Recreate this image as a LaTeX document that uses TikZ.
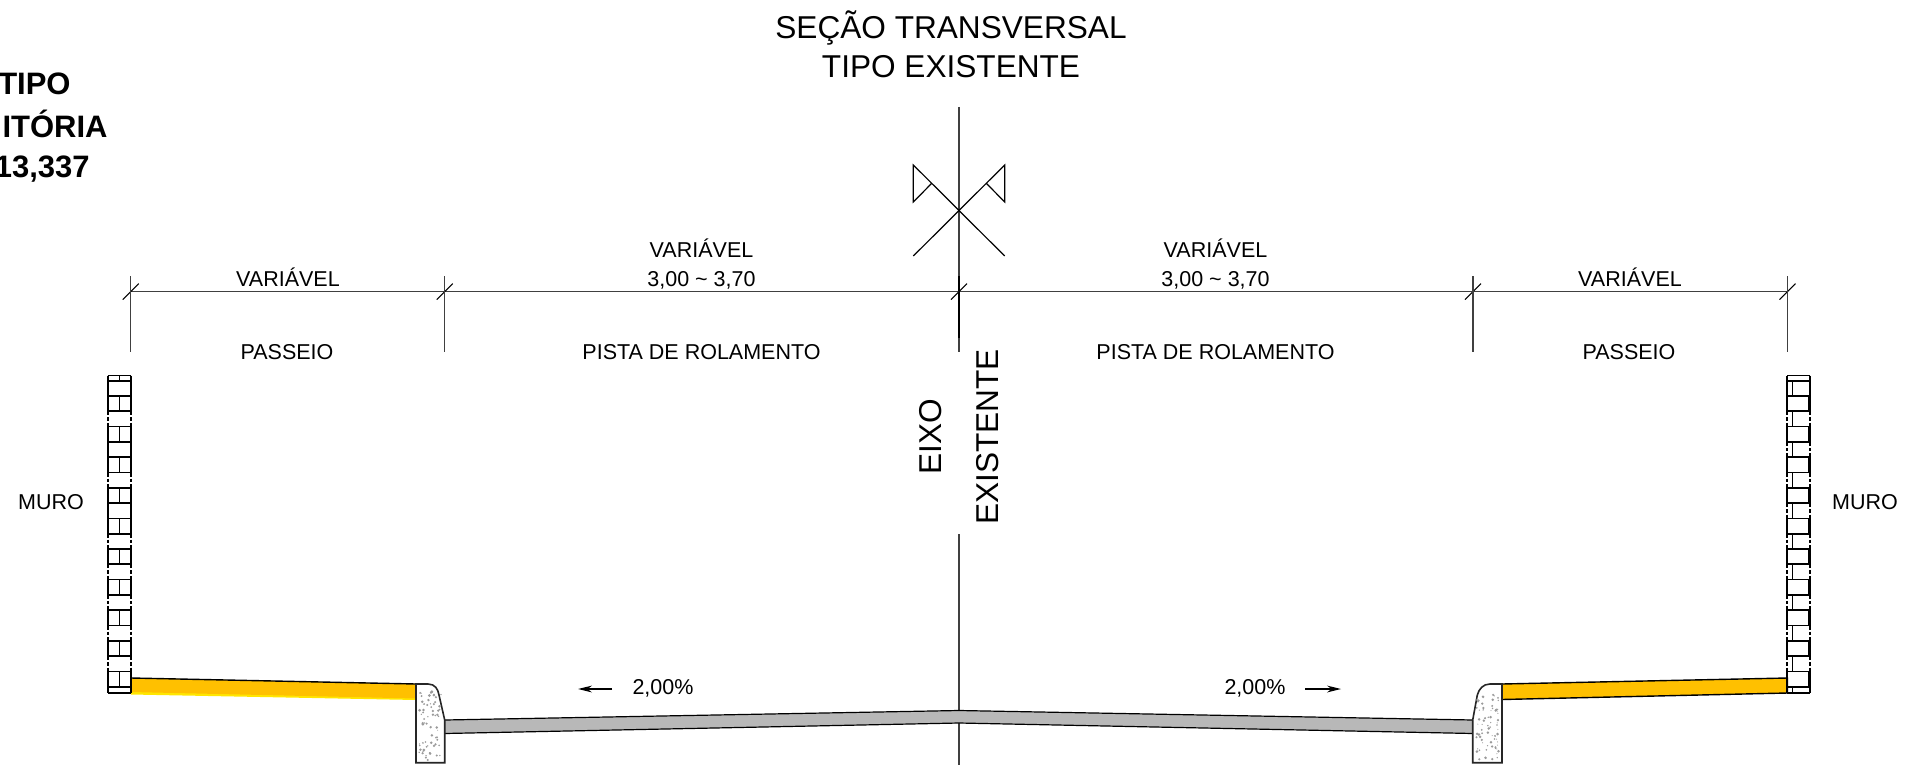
\documentclass[tikz,border=0pt]{standalone}
\usepackage{fontspec}
\setmainfont{Liberation Sans}
\definecolor{dimgray}{HTML}{404040}
\definecolor{pave}{HTML}{FFC000}
\definecolor{paveedge}{HTML}{FFE600}
\definecolor{road}{HTML}{B8B8B8}
\definecolor{grain}{HTML}{9A9A9A}
\usetikzlibrary{arrows.meta}
\tikzset{
  bigtext/.style={inner sep=0pt,font=\fontsize{15.8}{18}\selectfont},
  boldtext/.style={inner sep=0pt,anchor=base east,font=\fontsize{15.5}{18}\selectfont\bfseries},
  smalltext/.style={inner sep=0pt,anchor=base,font=\fontsize{10.75}{12}\selectfont},
  dimline/.style={draw=dimgray,line width=0.5pt},
  extline/.style={draw=dimgray,line width=0.55pt},
  tickline/.style={draw=black,line width=0.5pt},
  axisline/.style={draw=dimgray,line width=1pt},
  flagline/.style={draw=black,line width=0.6pt},
  brick/.style={draw=black,line width=0.85pt},
  brickthin/.style={draw=black,line width=0.55pt},
  brickheavy/.style={draw=black,line width=1.3pt},
  curb/.style={draw=black!85,line width=0.8pt,fill=white},
  slopearrow/.style={draw=black,line width=0.65pt,-{Stealth[length=7pt,width=3.4pt]}},
}
\begin{document}
\begin{tikzpicture}[x=0.5pt,y=-0.5pt]
\useasboundingbox (0,0) rectangle (1909,765);
\clip (0,0) rectangle (1909,765);
% titles
\node[bigtext] (title1) at (951,28) {SEÇÃO TRANSVERSAL};
\node[bigtext] (title2) at (951,67) {TIPO EXISTENTE};
\node[boldtext] (b1) at (71,95) {TIPO};
\node[boldtext] (b2) at (108,137) {ITÓRIA};
\node[boldtext] (b3) at (90,177) {13,337};
% axis
\coordinate (axT) at (959,107);
\coordinate (axM) at (959,352);
\coordinate (axL) at (959,534);
\coordinate (axB) at (959,765);
\draw[axisline] (axT) -- (axM);
\draw[axisline] (axL) -- (axB);
\coordinate (axD1) at (959,276);
\coordinate (axD2) at (959,338);
\draw[draw=black,line width=1pt] (axD1) -- (axD2);
% flag symbol
\coordinate (fc) at (959,210);
\coordinate (fa) at (913.3,256);
\coordinate (fb) at (1004.7,256);
\coordinate (fd) at (913.3,165);
\coordinate (fe) at (1004.7,165);
\draw[flagline] (fa) -- (fe) -- (1004.7,202) -- (986,183);
\draw[flagline] (fb) -- (fd) -- (913.3,202) -- (932,183);
% dimension line
\coordinate (d1) at (130.7,291.6);
\coordinate (d2) at (444.7,291.6);
\coordinate (d3) at (959,291.6);
\coordinate (d4) at (1473,291.6);
\coordinate (d5) at (1787.5,291.6);
\draw[dimline] (d1) -- (d5);
\foreach \p in {d1,d2,d3,d4,d5}{
  \draw[tickline] ([shift={(-8,8)}]\p) -- ([shift={(8,-8)}]\p);
}
\foreach \xx in {130.7,444.7,1473,1787.5}{
  \draw[extline] (\xx,276) -- (\xx,352);
}
% labels
\node[smalltext] (v1) at (288,286.5) {VARIÁVEL};
\node[smalltext] (v2) at (701.5,257.5) {VARIÁVEL};
\node[smalltext] (n2) at (701.5,286.5) {3,00 \textasciitilde{} 3,70};
\node[smalltext] (v3) at (1215.5,257.5) {VARIÁVEL};
\node[smalltext] (n3) at (1215.5,286.5) {3,00 \textasciitilde{} 3,70};
\node[smalltext] (v4) at (1630,286.5) {VARIÁVEL};
\node[smalltext] (p1) at (287,359) {PASSEIO};
\node[smalltext] (r1) at (701.5,359) {PISTA DE ROLAMENTO};
\node[smalltext] (r2) at (1215.5,359) {PISTA DE ROLAMENTO};
\node[smalltext] (p2) at (1629,359) {PASSEIO};
\node[smalltext] (m1) at (51,509) {MURO};
\node[smalltext] (m2) at (1865,509) {MURO};
\node[bigtext,rotate=90] (e1) at (931,437) {EIXO};
\node[bigtext,rotate=90] (e2) at (988,437) {EXISTENTE};
\node[smalltext] (s1) at (663,694.5) {2,00\%};
\node[smalltext] (s2) at (1255,694.5) {2,00\%};
\coordinate (a1s) at (612,689);
\coordinate (a1e) at (578,689);
\coordinate (a2s) at (1305,689);
\coordinate (a2e) at (1341,689);
\draw[slopearrow] (a1s) -- (a1e);
\draw[slopearrow] (a2s) -- (a2e);
% road
\fill[road] (444.7,720) -- (959,710.5) -- (1473,720) -- (1473,733.5) -- (959,723) -- (444.7,733.5) -- cycle;
\draw[draw=black,line width=0.6pt] (444.7,720) -- (959,710.5) -- (1473,720);
\draw[draw=black,line width=0.6pt] (444.7,733.5) -- (959,723) -- (1473,733.5);
% left sidewalk
\fill[paveedge] (131,678) -- (416,684) -- (416,700) -- (131,694.5) -- cycle;
\fill[pave] (131,678) -- (416,684) -- (416,698.5) -- (131,692) -- cycle;
\draw[draw=black,line width=0.7pt] (131,678) -- (416,684);
% right sidewalk
\fill[pave] (1502,684) -- (1787.5,678) -- (1787.5,693) -- (1502,699.5) -- cycle;
\draw[draw=black,line width=0.7pt] (1502,684) -- (1787.5,678) -- (1787.5,693) -- (1502,699.5) -- cycle;
% curbs
\draw[curb] (416,684) -- (428,684) .. controls (435,684) and (438,689) .. (439,695) -- (444.7,720) -- (444.7,762.7) -- (416,762.7) -- cycle;
\draw[curb] (1502,684) -- (1490,684) .. controls (1483,684) and (1479,689) .. (1477.3,695) -- (1472.7,720) -- (1472.7,762.7) -- (1502,762.7) -- cycle;
\pgfmathsetseed{17}
\foreach \i in {1,...,70}{
  \pgfmathsetmacro{\dx}{419+rnd*22}
  \pgfmathsetmacro{\dy}{690+rnd*70}
  \pgfmathsetmacro{\dr}{0.5+rnd*1.0}
  \fill[grain] (\dx,\dy) circle[radius=\dr];
  \pgfmathsetmacro{\ex}{1476+rnd*23}
  \pgfmathsetmacro{\ey}{692+rnd*68}
  \pgfmathsetmacro{\er}{0.5+rnd*1.0}
  \fill[grain] (\ex,\ey) circle[radius=\er];
}
% left wall
\draw[brickthin] (107.7,375.7) -- (131.3,375.7);
\draw[brickthin] (107.7,693) -- (131.3,693);
\draw[brick] (119.5,375.7) -- (119.5,380.7);
\foreach \k in {0,...,20}{
  \pgfmathsetmacro{\yy}{380.7+15.3*\k}
  \draw[brick] (107.7,\yy) -- (131.3,\yy);
}
\foreach \k in {1,3,...,19}{
  \pgfmathsetmacro{\ya}{380.7+15.3*\k}
  \pgfmathsetmacro{\yb}{\ya+15.3}
  \draw[brick] (119.5,\ya) -- (119.5,\yb);
  \draw[brick] (107.7,\ya) -- (107.7,\yb);
  \draw[brick] (131.3,\ya) -- (131.3,\yb);
}
\foreach \k in {0,4,8,20}{
  \pgfmathsetmacro{\ya}{380.7+15.3*\k}
  \pgfmathsetmacro{\yb}{\ya+(\k==20 ? 6.3 : 15.3)}
  \draw[brick] (107.7,\ya) -- (107.7,\yb);
  \draw[brick] (131.3,\ya) -- (131.3,\yb);
}
\draw[brick] (107.7,375.7) -- (107.7,380.7);
\draw[brick] (131.3,375.7) -- (131.3,380.7);
\foreach \k in {2,6,10,12,14,16,18}{
  \pgfmathsetmacro{\ya}{380.7+15.3*\k}
  \pgfmathsetmacro{\yb}{\ya+4}
  \pgfmathsetmacro{\yc}{\ya+6}
  \pgfmathsetmacro{\yd}{\ya+9.5}
  \pgfmathsetmacro{\ye}{\ya+11.5}
  \pgfmathsetmacro{\yf}{\ya+15.3}
  \foreach \xx in {107.7,131.3}{
    \draw[brick] (\xx,\ya) -- (\xx,\yb);
    \draw[brick] (\xx,\yc) -- (\xx,\yd);
    \draw[brick] (\xx,\ye) -- (\xx,\yf);
  }
}
% right wall
\draw[brickthin] (1787.3,375.7) -- (1810,375.7);
\draw[brickthin] (1787.3,693) -- (1810,693);
\draw[brick] (1787.3,375.7) -- (1787.3,380.7);
\draw[brick] (1810,375.7) -- (1810,380.7);
\foreach \k in {0,...,20}{
  \pgfmathsetmacro{\yy}{380.7+15.3*\k}
  \draw[brick] (1787.3,\yy) -- (1810,\yy);
}
\foreach \k in {0,2,...,20}{
  \pgfmathsetmacro{\ya}{380.7+15.3*\k}
  \pgfmathsetmacro{\yb}{\ya+(\k==20 ? 6.3 : 15.3)}
  \draw[brick] (1792.5,\ya) -- (1792.5,\yb);
}
\foreach \k in {1,3,...,19}{
  \pgfmathsetmacro{\ya}{380.7+15.3*\k}
  \pgfmathsetmacro{\yb}{\ya+15.3}
  \draw[brickheavy] (1809.3,\ya) -- (1809.3,\yb);
  \draw[brick] (1787.3,\ya) -- (1787.3,\yb);
}
\foreach \k in {0,20}{
  \pgfmathsetmacro{\ya}{380.7+15.3*\k}
  \pgfmathsetmacro{\yb}{\ya+(\k==20 ? 6.3 : 15.3)}
  \draw[brick] (1787.3,\ya) -- (1787.3,\yb);
  \draw[brick] (1810,\ya) -- (1810,\yb);
}
\foreach \k in {2,4,...,18}{
  \pgfmathsetmacro{\ya}{380.7+15.3*\k}
  \pgfmathsetmacro{\yb}{\ya+4}
  \pgfmathsetmacro{\yc}{\ya+6}
  \pgfmathsetmacro{\yd}{\ya+9.5}
  \pgfmathsetmacro{\ye}{\ya+11.5}
  \pgfmathsetmacro{\yf}{\ya+15.3}
  \foreach \xx in {1787.3,1810}{
    \draw[brick] (\xx,\ya) -- (\xx,\yb);
    \draw[brick] (\xx,\yc) -- (\xx,\yd);
    \draw[brick] (\xx,\ye) -- (\xx,\yf);
  }
}
\end{tikzpicture}
\end{document}
